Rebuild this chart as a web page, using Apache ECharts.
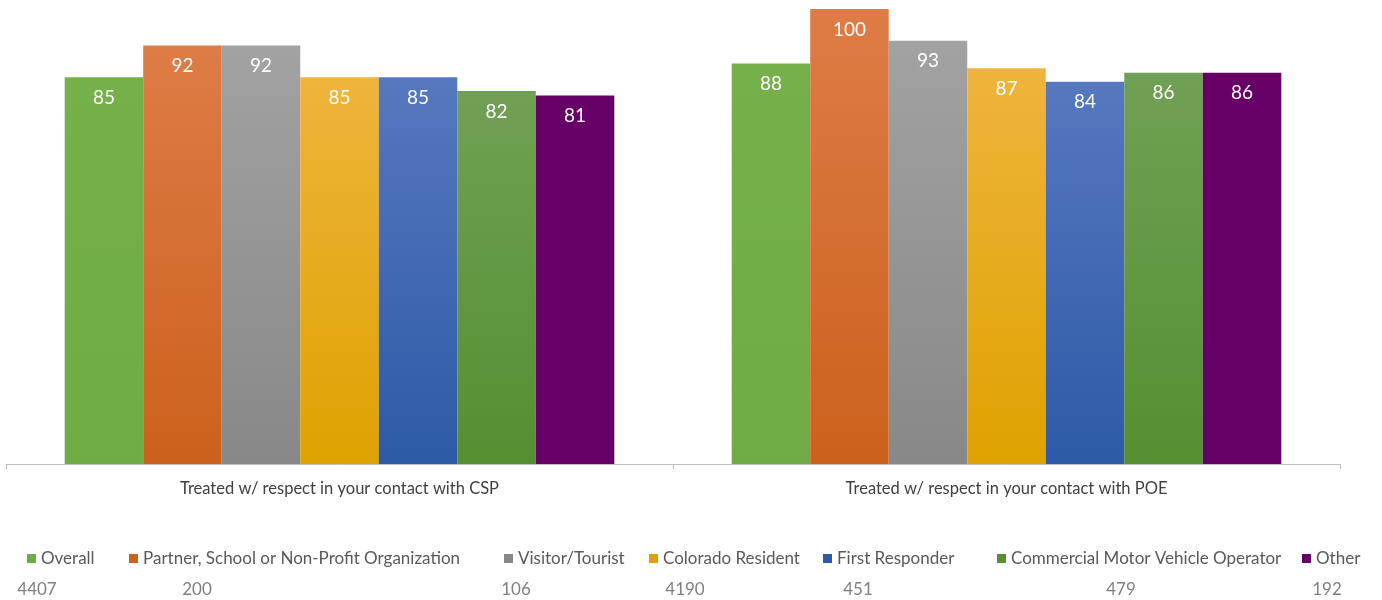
<!DOCTYPE html>
<html>
<head>
<meta charset="utf-8">
<style>
  html, body { margin: 0; padding: 0; background: #ffffff; }
  #chart { width: 1382px; height: 600px; }
</style>
<script src="https://cdn.jsdelivr.net/npm/echarts@6/dist/echarts.min.js"></script>
</head>
<body>
<div id="chart"></div>
<script>
// Survey questions (x categories)
const categories = [
  'Treated w/ respect in your contact with CSP',
  'Treated w/ respect in your contact with POE'
];

// Respondent groups, one series each
const seriesNames = [
  'Overall',
  'Partner, School or Non-Profit Organization',
  'Visitor/Tourist',
  'Colorado Resident',
  'First Responder',
  'Commercial Motor Vehicle Operator',
  'Other'
];

// Percent agreeing, per group, per question
const overall    = [85, 88];
const partner    = [92, 100];
const visitor    = [92, 93];
const resident   = [85, 87];
const responder  = [85, 84];
const commercial = [82, 86];
const other      = [81, 86];

// Number of respondents per group (printed under the legend)
const respondentCounts = [4407, 200, 106, 4190, 451, 479, 192];

const seriesValues = [overall, partner, visitor, resident, responder, commercial, other];

// Fill gradients (top colour, bottom colour) for each group
const fills = [
  ['#75B04B', '#6FAC45'],
  ['#DE7C47', '#CB611B'],
  ['#A2A2A2', '#888888'],
  ['#EFB43C', '#DEA200'],
  ['#5678BF', '#2D5AA6'],
  ['#70A055', '#558F31'],
  ['#660066', '#660066']
];

// Legend entry left edges and count centres (px)
const legendLeft = [22, 124, 499, 644, 818, 992, 1297];
const countCenter = [37, 197, 516, 685, 858, 1121, 1327];

const FONT = 'Lato, "Open Sans", sans-serif';

const chart = echarts.init(document.getElementById('chart'));

const series = seriesNames.map((name, i) => ({
  name,
  type: 'bar',
  data: seriesValues[i],
  barGap: '0%',
  barCategoryGap: '17.6%',
  itemStyle: {
    color: new echarts.graphic.LinearGradient(0, 0, 0, 1, [
      { offset: 0, color: fills[i][0] },
      { offset: 1, color: fills[i][1] }
    ])
  },
  label: {
    show: true,
    position: 'insideTop',
    distance: 11,
    color: '#ffffff',
    fontFamily: FONT,
    fontSize: 19
  },
  emphasis: { disabled: true }
}));

const legends = seriesNames.map((name, i) => ({
  data: [{ name, itemStyle: { color: fills[i][1] } }],
  left: legendLeft[i],
  top: 545,
  itemWidth: 9,
  itemHeight: 9,
  icon: 'rect',
  selectedMode: false,
  textStyle: { color: '#595959', fontFamily: FONT, fontSize: 17 }
}));

const countTexts = respondentCounts.map((n, i) => ({
  type: 'text',
  x: countCenter[i],
  y: 590,
  style: {
    text: String(n),
    fill: '#808080',
    font: '17px ' + FONT,
    textAlign: 'center',
    textVerticalAlign: 'middle'
  }
}));

chart.setOption({
  animation: false,
  grid: { left: 6, right: 42, top: 9, bottom: 136, containLabel: false },
  xAxis: {
    type: 'category',
    data: categories,
    axisLine: { lineStyle: { color: '#BFBFBF', width: 1 } },
    axisTick: { show: true, length: 5, lineStyle: { color: '#BFBFBF' } },
    axisLabel: { color: '#404040', fontFamily: FONT, fontSize: 16.5, margin: 16 }
  },
  yAxis: {
    type: 'value',
    min: 0,
    max: 100,
    show: false,
    splitLine: { show: false }
  },
  legend: legends,
  series,
  graphic: countTexts
});
</script>
</body>
</html>
